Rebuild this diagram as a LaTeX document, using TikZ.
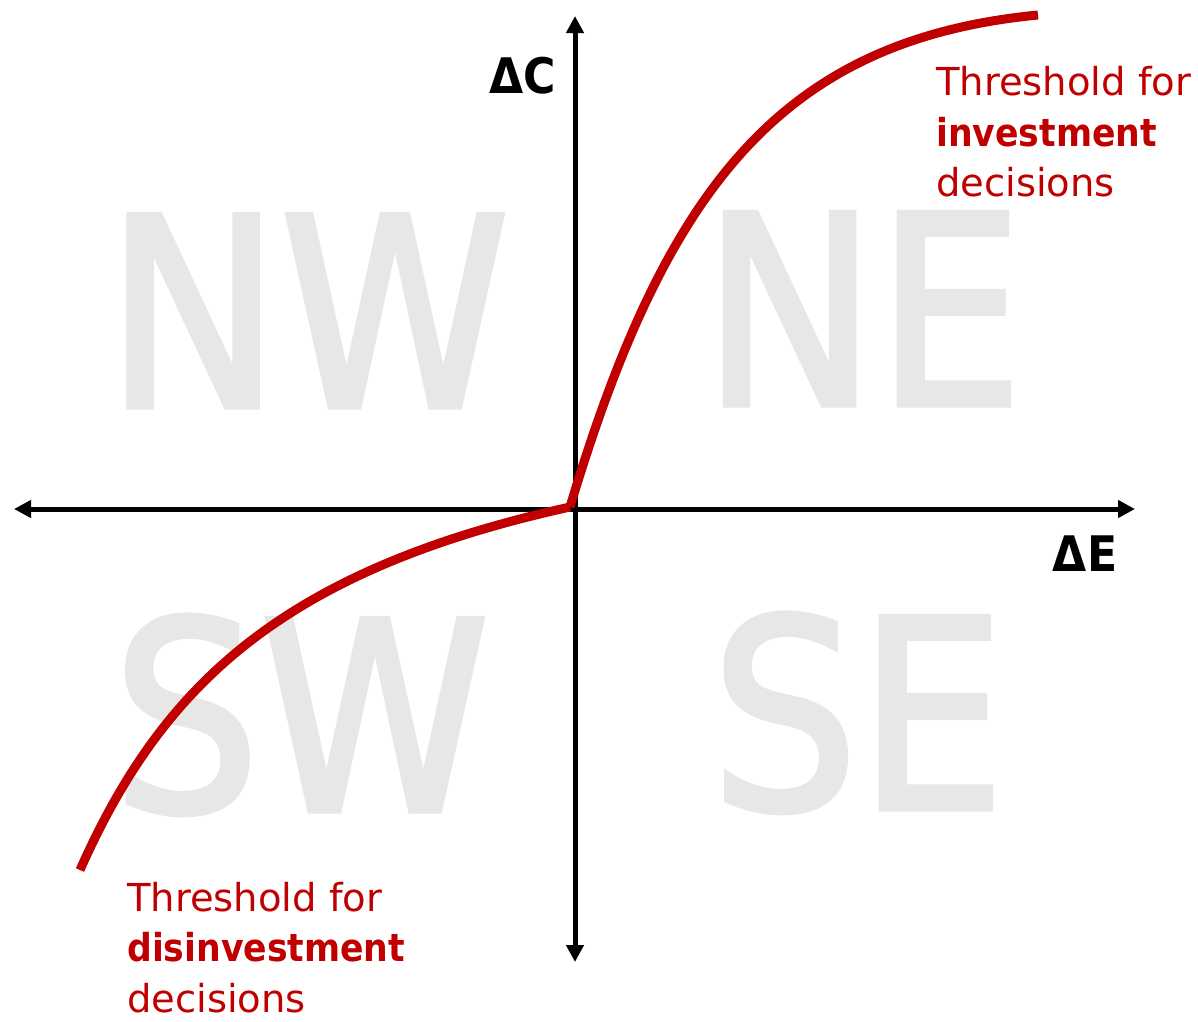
\documentclass[tikz,border=0pt]{standalone}
\usepackage{fontspec}
\setmainfont{DejaVu Sans}[BoldFeatures={FakeStretch=0.9}]
\newfontfamily\quadfont[FakeStretch=0.88,FakeBold=2]{DejaVu Sans}
\usetikzlibrary{arrows.meta}
\definecolor{qdred}{HTML}{C00000}
\definecolor{qdgray}{HTML}{E7E7E7}
\tikzset{
  quad/.style={text=qdgray,inner sep=0pt,anchor=base,font=\quadfont\fontsize{264}{264}\selectfont},
  axis/.style={{Triangle[length=17pt,width=17pt]}-{Triangle[length=17pt,width=17pt]},line width=5pt},
  axlab/.style={inner sep=0pt,anchor=base,font=\bfseries\fontsize{49}{49}\selectfont},
  thr/.style={draw=qdred,line width=9pt},
  note/.style={text=qdred,inner sep=0pt,anchor=base west,align=left,font=\fontsize{38.5}{50.5}\selectfont},
}
\begin{document}
\begin{tikzpicture}[x=1pt,y=-1pt]
\useasboundingbox (0,0) rectangle (1198,1021);
\node[quad] (nw) at (308,407) {NW};
\node[quad] (ne) at (863,405) {NE};
\node[quad] (sw) at (301,811) {SW};
\node[quad] (se) at (858,809) {SE};
\coordinate (west) at (14,509);
\coordinate (east) at (1135,509);
\coordinate (north) at (575,16);
\coordinate (south) at (575,962);
\coordinate (o) at (570,507);
\coordinate (top) at (1038,15);
\coordinate (bot) at (80,870);
\draw[axis] (west) -- (east);
\draw[axis] (south) -- (north);
\draw[thr] (o) .. controls (665,190) and (780,40) .. (top);
\draw[thr] (o) .. controls (277,571.5) and (160,690) .. (bot);
\node[axlab] (dc) at (523,93) {ΔC};
\node[axlab] (de) at (1085,571) {ΔE};
\node[note] (inv) at (936,196.5) {Threshold for\\\textbf{investment}\\decisions};
\node[note] (dis) at (127,1012) {Threshold for\\\textbf{disinvestment}\\decisions};
\end{tikzpicture}
\end{document}
